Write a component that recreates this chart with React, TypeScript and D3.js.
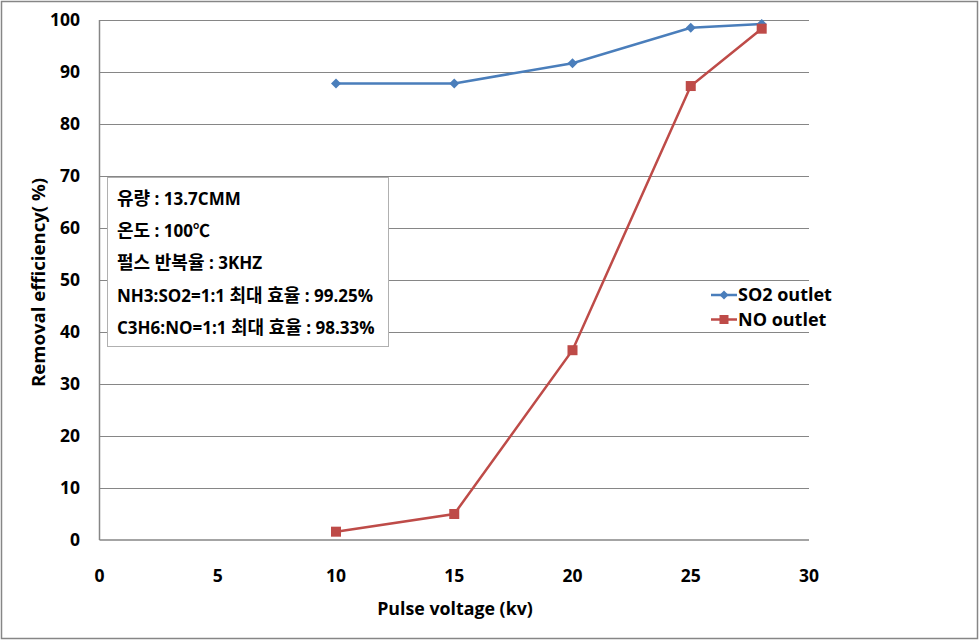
import React from "react";
import * as d3 from "d3";

const voltages = [10, 15, 20, 25, 28];
const so2Outlet = [87.8, 87.8, 91.7, 98.5, 99.25];
const noOutlet = [1.6, 5.0, 36.5, 87.3, 98.33];
const xTicks = [0, 5, 10, 15, 20, 25, 30];
const yTicks = [0, 10, 20, 30, 40, 50, 60, 70, 80, 90, 100];
const seriesNames = ["SO2 outlet", "NO outlet"];
const seriesColors = ["#4a7ebb", "#be4b48"];
const boxLines = [
  { pre: "", ko: "유량", val: "13.7CMM" },
  { pre: "", ko: "온도", val: "100℃" },
  { pre: "", ko: "펄스 반복율", val: "3KHZ" },
  { pre: "NH3:SO2=1:1 ", ko: "최대 효율", val: "99.25%" },
  { pre: "C3H6:NO=1:1 ", ko: "최대 효율", val: "98.33%" },
];

const W = 980;
const H = 641;
const FONT = "'Open Sans', 'Noto Sans CJK KR', sans-serif";

export default function App() {
  const x = d3.scaleLinear().domain([0, 30]).range([99.5, 809]);
  const y = d3.scaleLinear().domain([0, 100]).range([540, 20]);
  const line = d3
    .line<[number, number]>()
    .x((d) => x(d[0]))
    .y((d) => y(d[1]));
  const so2 = voltages.map((v, i) => [v, so2Outlet[i]] as [number, number]);
  const no = voltages.map((v, i) => [v, noOutlet[i]] as [number, number]);

  const diamond = (cx: number, cy: number, r: number) =>
    `M${cx},${cy - r}L${cx + r},${cy}L${cx},${cy + r}L${cx - r},${cy}Z`;

  return (
    <svg width={W} height={H} style={{ position: "absolute", left: 0, top: 0 }} fontFamily={FONT}>
      <rect x={0} y={0} width={W} height={H} fill="#fff" />
      <rect x={1.5} y={1.5} width={W - 4} height={H - 4} fill="none" stroke="#868686" strokeWidth={1.5} />
      {yTicks.slice(1).map((t) => (
        <line key={t} x1={x(0)} x2={x(30)} y1={Math.round(y(t)) + 0.5} y2={Math.round(y(t)) + 0.5} stroke="#868686" strokeWidth={1} />
      ))}
      <line x1={x(0)} x2={x(0)} y1={y(100)} y2={y(0)} stroke="#868686" strokeWidth={1.5} />
      <line x1={x(0)} x2={x(30)} y1={y(0)} y2={y(0)} stroke="#868686" strokeWidth={1.5} />
      {yTicks.map((t) => (
        <text key={t} x={80} y={y(t)} dy="0.36em" textAnchor="end" fontSize={17.5} fontWeight="bold">
          {t}
        </text>
      ))}
      {xTicks.map((t) => (
        <text key={t} x={x(t)} y={576} dy="0.36em" textAnchor="middle" fontSize={17.5} fontWeight="bold">
          {t}
        </text>
      ))}
      <text x={455} y={609} dy="0.36em" textAnchor="middle" fontSize={17.8} fontWeight="bold">
        Pulse voltage (kv)
      </text>
      <text
        transform={`translate(38.5,282.5) rotate(-90)`}
        dy="0.36em"
        textAnchor="middle"
        fontSize={18}
        fontWeight="bold"
        textLength={209}
        lengthAdjust="spacingAndGlyphs"
      >
        Removal efficiency( %)
      </text>

      <path d={line(so2) || ""} fill="none" stroke={seriesColors[0]} strokeWidth={2.5} />
      <path d={line(no) || ""} fill="none" stroke={seriesColors[1]} strokeWidth={2.5} />
      {so2.map((d, i) => (
        <path key={i} d={diamond(x(d[0]), y(d[1]), 5)} fill={seriesColors[0]} />
      ))}
      {no.map((d, i) => (
        <rect key={i} x={x(d[0]) - 5} y={y(d[1]) - 5} width={10} height={10} fill={seriesColors[1]} />
      ))}

      <rect x={107.5} y={177.5} width={281} height={169} fill="#fff" stroke="#b0b0b0" strokeWidth={1} />
      {boxLines.map((b, i) => (
        <text key={i} x={117} y={199 + i * 32.3} dy="0.36em" fontWeight="bold">
          {b.pre && <tspan fontSize={17}>{b.pre}</tspan>}
          <tspan fontSize={18}>{b.ko}</tspan>
          <tspan fontSize={17}> :</tspan>
          <tspan fontSize={17}> {b.val}</tspan>
        </text>
      ))}

      {seriesNames.map((n, i) => (
        <g key={n} transform={`translate(0,${295 + i * 24.5})`}>
          <line x1={711} x2={737} y1={0} y2={0} stroke={seriesColors[i]} strokeWidth={2.5} />
          {i === 0 ? (
            <path d={diamond(724, 0, 4.5)} fill={seriesColors[0]} />
          ) : (
            <rect x={719.5} y={-4.5} width={9} height={9} fill={seriesColors[1]} />
          )}
          <text x={738} y={0} dy="0.36em" fontSize={18} fontWeight="bold">
            {n}
          </text>
        </g>
      ))}
    </svg>
  );
}
